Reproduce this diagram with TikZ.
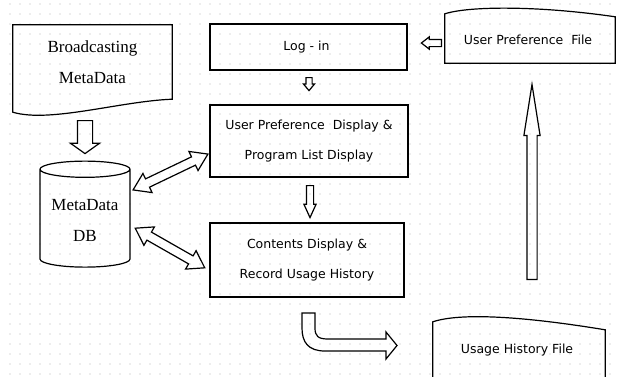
\documentclass[tikz,border=0pt]{standalone}
\usepackage{fontspec}
\setmainfont{Liberation Serif}
\newfontfamily\guifont{DejaVu Sans}
\usetikzlibrary{shapes.geometric,shapes.arrows,calc}

\tikzset{
    lw/.style={line width=1.2pt},
    serif/.style={align=center,font={\fontsize{17}{31}\selectfont}},
    gui/.style={align=center,font={\guifont\fontsize{12.5}{30}\selectfont}},
    box/.style={gui,lw,draw,inner sep=0pt},
    hollow/.style={single arrow,draw,lw,inner sep=0pt,text depth=0pt,text height=#1,anchor=tail},
    twoway/.style={double arrow,draw,lw,inner sep=0pt,text depth=0pt,text height=8pt,minimum width=20,
        double arrow head extend=6,double arrow tip angle=67}
}

\begin{document}
\begin{tikzpicture}[x=1pt,y=-1pt]
                \useasboundingbox (0,0) rectangle (619,376);
                \foreach \gx in {10,20,...,610}
                    \foreach \gy in {4,14,...,374}
                        \fill[gray!60] (\gx,\gy) circle[radius=0.55];

                \node[serif,minimum width=159,minimum height=74] (Meta) at (92.5,62) { Broadcasting\\MetaData };
                \draw[lw] (Meta.south east) .. controls +(-52,2) and +(37,11) .. ($(Meta.south west)+(0,13)$)
                    -- (Meta.north west) -- (Meta.north east) -- cycle;

                \node[draw,lw,cylinder,shape border rotate=90,aspect=0.22,minimum width=90,minimum height=106,
                    serif] (DB) at (85,220) { MetaData\\DB };

                \node[box,minimum width=197,minimum height=46] (Login) at (308.5,47) { Log - in };
                \node[box,minimum width=198,minimum height=72] (Disp) at (309,141) { User Preference\ \ Display \&\\Program List Display };
                \node[box,minimum width=194,minimum height=74] (Rec) at (307,260) { Contents Display \&\\Record Usage History };

                \node[gui,minimum width=170,minimum height=46] (UPF) at (530,40) { User Preference\ \ File };
                \draw[lw] (UPF.south west) -- ($(UPF.north west)+(0,-3)$) .. controls +(25,-8) and +(-75,-11) .. (UPF.north east)
                    -- (UPF.south east) -- cycle;

                \node[gui,minimum width=172,minimum height=40] (UHF) at (519,350) { Usage History File };
                \draw[lw] ($(UHF.south west)+(0,10)$) -- ($(UHF.north west)+(0,-8)$) .. controls +(27,-9) and +(-85,-14) .. (UHF.north east)
                    -- ($(UHF.south east)+(0,10)$);

                \node[hollow=14pt,rotate=-90,minimum height=33,minimum width=28,
                    single arrow head extend=7,single arrow tip angle=109] (a1) at (85,120) {};
                \node[hollow=5pt,rotate=-90,minimum height=13,minimum width=10,
                    single arrow head extend=2.5,single arrow tip angle=80] (a2) at (309,77) {};
                \node[hollow=6pt,rotate=-90,minimum height=32,minimum width=11,
                    single arrow head extend=2.5,single arrow tip angle=49] (a3) at (310,185) {};
                \node[hollow=6pt,rotate=180,minimum height=20,minimum width=11,
                    single arrow head extend=2.5,single arrow tip angle=76] (a4) at (442,43) {};
                \node[hollow=9pt,rotate=90,minimum height=195,minimum width=15,
                    single arrow head extend=3,single arrow tip angle=18] (a5) at (532,280) {};

                \node[twoway,rotate=25.6,minimum height=83] (d1) at (170.5,172) {};
                \node[twoway,rotate=-29.7,minimum height=80] (d2) at (170,248) {};

                \coordinate (bend) at (302,313);
                \draw[lw] (bend) -- ++(13,0) -- (315,328) .. controls (315,336) and (318,339) .. (328,339)
                    -- (386,339) -- (386,332) -- (397,345.5) -- (386,359) -- (386,351) -- (325,351)
                    .. controls (308,351) and (302,342) .. (302,328) -- cycle;
            \end{tikzpicture}
\end{document}
